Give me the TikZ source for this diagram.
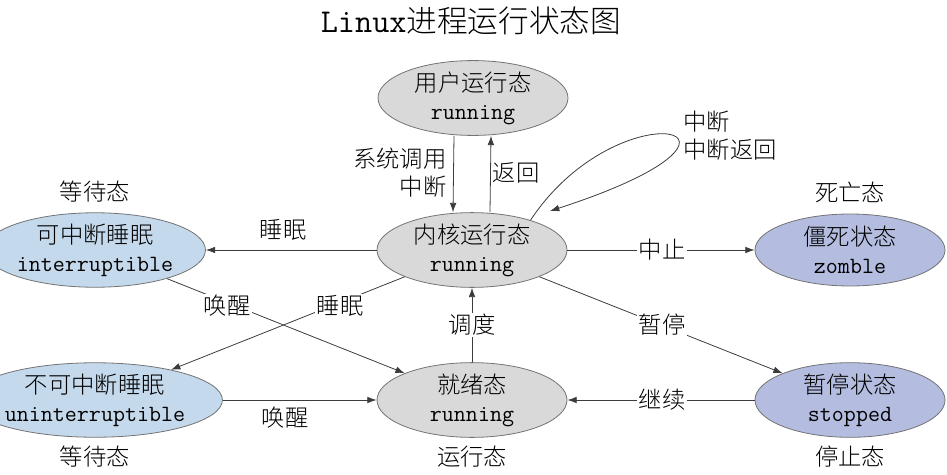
\documentclass[tikz,border=0pt]{standalone}
\usepackage{fontspec}
\setmainfont{Noto Sans CJK SC Light}
\usetikzlibrary{shapes.geometric,arrows.meta}
\definecolor{stategray}{RGB}{217,217,217}
\definecolor{sleepblue}{RGB}{197,217,236}
\definecolor{stopblue}{RGB}{180,189,224}
\definecolor{edgegray}{RGB}{60,60,60}
\tikzset{
  state/.style={ellipse,draw=black!55,line width=0.6pt,minimum width=142.5pt,minimum height=54pt,inner sep=0pt,align=center,font=\fontsize{17.5}{21}\selectfont},
  trans/.style={draw=edgegray,line width=0.6pt,-{Latex[length=7pt,width=5pt]}},
  lbl/.style={font=\fontsize{17.5}{21}\selectfont,inner sep=1pt},
  onlbl/.style={lbl,fill=white},
}
\newcommand{\en}[1]{{\ttfamily\fontsize{17.5}{21}\selectfont #1}}
\begin{document}
\begin{tikzpicture}[x=0.75pt,y=0.75pt,yscale=-1,xscale=1]
\useasboundingbox (0,0) rectangle (947,475);

% Title
\node (title) at (471,21) {\fontsize{23}{26}\selectfont{\ttfamily\fontsize{25}{26}\selectfont Linux}进程运行状态图};

% States
\node[state,fill=stategray] (user) at (473,98) {用户运行态\\\en{running}};
\node[state,fill=stategray] (kern) at (472,250) {内核运行态\\\en{running}};
\node[state,fill=stategray] (rdy) at (472,400) {就绪态\\\en{running}};
\node[state,fill=sleepblue] (intr) at (95,250) {可中断睡眠\\\en{interruptible}};
\node[state,fill=sleepblue] (unin) at (95,400) {不可中断睡眠\\\en{uninterruptible}};
\node[state,fill=stopblue] (zomb) at (850,250) {僵死状态\\\en{zomble}};
\node[state,fill=stopblue] (stop) at (850,400) {暂停状态\\\en{stopped}};

% Group labels
\node[lbl] (waitA) at (95,192) {等待态};
\node[lbl] (dead) at (850,192) {死亡态};
\node[lbl] (waitB) at (95,457) {等待态};
\node[lbl] (run) at (472,457) {运行态};
\node[lbl] (halt) at (850,457) {停止态};

% User <-> kernel
\draw[trans] ([xshift=-14.25pt]user.south) -- ([xshift=-14.25pt]kern.north);
\draw[trans] ([xshift=13.5pt]kern.north) -- ([xshift=13.5pt]user.south);
\node[lbl,anchor=east,align=right] (syscall) at (448,173) {系统调用\\中断};
\node[lbl] (ret) at (516,173) {返回};

% Interrupt loop
\coordinate (loopend) at (550,211);
\draw[trans] (kern.27) .. controls (620,85) and (800,130) .. (loopend);
\node[lbl,anchor=west,align=left] (irq) at (682,136) {中断\\中断返回};

% Kernel transitions
\draw[trans] (kern.west) -- (intr.east);
\node[lbl] (sleepA) at (283,230) {睡眠};
\draw[trans] (kern.east) -- (zomb.west);
\node[onlbl] (abort) at (662,250) {中止};
\draw[trans] (kern) -- (stop);
\node[onlbl] (pause) at (662,325) {暂停};
\draw[trans] (kern) -- (unin);
\node[onlbl] (sleepB) at (340,306) {睡眠};

% Wake up and schedule
\draw[trans] (intr) -- (rdy);
\node[onlbl] (wakeA) at (227,306) {唤醒};
\draw[trans] (rdy) -- (kern);
\node[onlbl] (sched) at (472,325) {调度};
\draw[trans] (unin.east) -- (rdy.west);
\node[lbl] (wakeB) at (285,418) {唤醒};
\draw[trans] (stop.west) -- (rdy.east);
\node[onlbl] (resume) at (662,400) {继续};

\end{tikzpicture}
\end{document}
